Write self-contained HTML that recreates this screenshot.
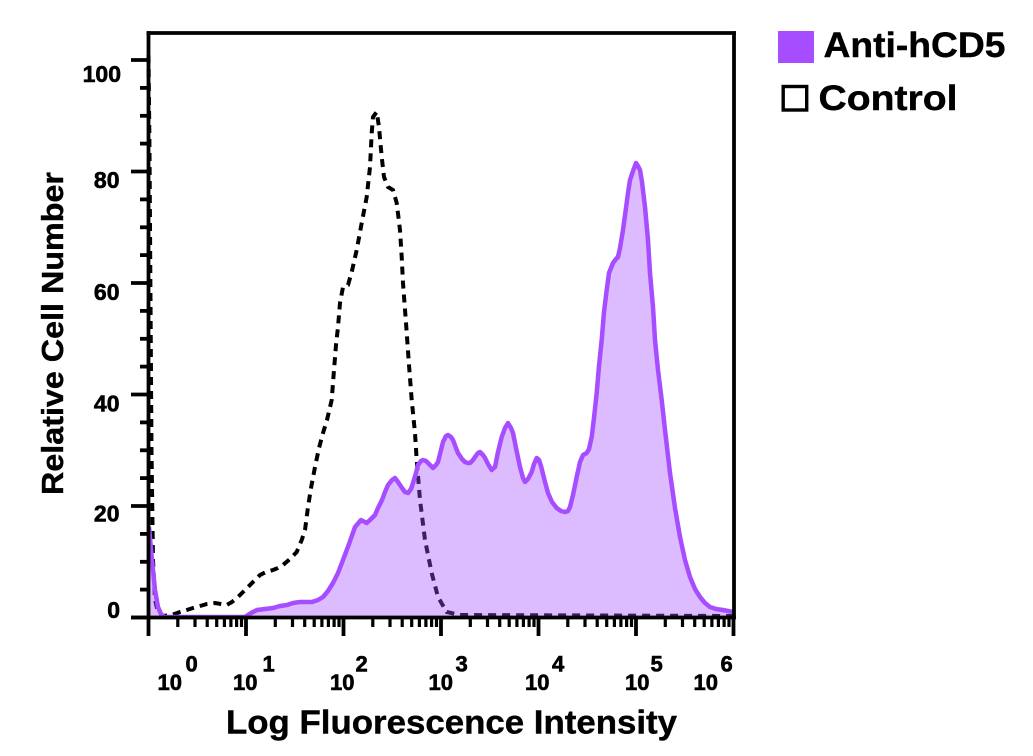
<!DOCTYPE html>
<html>
<head>
<meta charset="utf-8">
<style>
html,body{margin:0;padding:0;background:#fff;}
svg{display:block;}
text{font-family:"Liberation Sans",Arial,sans-serif;font-weight:bold;fill:#000;}
</style>
</head>
<body>
<svg width="1033" height="756" viewBox="0 0 1033 756" xmlns="http://www.w3.org/2000/svg">
<rect width="1033" height="756" fill="#fff"/>

<!-- Control dashed -->
<path d="M148.5,55 L149.5,150 L150.5,300 L151.5,450 L153,560 L155,600 L158,612 L163,616 L171.7,615 L180,612 L186.7,610 L193,608 L200,606 L207,604 L215,603 L221,604 L226.7,605 L232,602 L238,597 L243,592 L248,587 L254,581 L260,575 L266,572 L273,570 L278,568 L283,565 L290,559 L296.7,552 L301.7,540 L305,530 L308,507 L311,488 L315,467 L319,448 L323,433 L327,420 L331.7,400 L334,370 L336,345 L338,327 L340,303 L343,287 L348,285 L351.7,272 L356.7,250 L361.7,223 L366.7,197 L370,167 L371.7,133 L373,117 L376.7,112 L379,127 L381.7,157 L384,177 L388,187 L393,190 L396.7,203 L400,230 L401.7,257 L403,283 L406,323 L409,365 L411.7,400 L415,433 L416.7,460 L420,500 L425,540 L431.7,573 L438,597 L446.7,612 L460,615 L735,616" fill="none" stroke="#000" stroke-width="4" stroke-dasharray="8,6"/>

<!-- Anti-hCD5 fill -->
<path d="M149,617.5 L149,527 L152,560 L155,590 L158,607 L161,614 L164,617 L245,617 L251,613 L257,610 L265,609 L273,608 L280,606 L287,605 L293,603 L300,602 L312,602 L318,600 L323,597 L328,591 L333,583 L338,573 L343,560 L349,544 L355,527 L361,520 L366.7,523 L371,519 L375,515 L378,508 L382,500 L385,492 L388,485 L392,480 L395,478 L398,482 L402,488 L405,492 L408,493 L411,489 L413,483 L416,473 L418,465 L421,461 L423,460 L426,461 L428,463 L431,466 L433,468 L436,465 L438,462 L441,450 L443,442 L446,436 L448,435 L451,437 L453,440 L456,448 L458,453 L462,459 L465,462 L468,463 L470,463 L473,460 L475,457 L478,453 L480,452 L483,455 L485,458 L488,464 L491.7,470 L495,467 L498,452 L501.7,437 L505,428 L508,423 L511,428 L513,433 L516,448 L520,467 L523,478 L525,482 L528,479 L531.7,472 L534,464 L536.7,458 L539,460 L541,466 L545,482 L548,493 L552,502 L556.7,508 L561,511 L565,512 L568,511 L570,507 L573,495 L576.7,477 L580,462 L583,455 L586.7,453 L589,449 L591.7,437 L594,418 L596.7,393 L599,366 L601.7,340 L604,312 L606.7,290 L609,273 L613,263 L616,259 L618,257 L620,248 L623,230 L626,208 L628,193 L630,180 L633,171 L636,163 L638,166 L640,170 L642,182 L645,207 L648,240 L650,273 L653,307 L655,340 L658,370 L661.7,400 L665,430 L670,473 L675,508 L680,537 L685,560 L690,577 L695,589 L700,597 L705,603 L710,607 L716,609 L723,610 L728,611 L733,612 L733,617.5 Z" fill="#a64dff" fill-opacity="0.38" stroke="none"/>
<!-- Anti-hCD5 line -->
<path d="M149,527 L152,560 L155,590 L158,607 L161,614 L164,617 L245,617 L251,613 L257,610 L265,609 L273,608 L280,606 L287,605 L293,603 L300,602 L312,602 L318,600 L323,597 L328,591 L333,583 L338,573 L343,560 L349,544 L355,527 L361,520 L366.7,523 L371,519 L375,515 L378,508 L382,500 L385,492 L388,485 L392,480 L395,478 L398,482 L402,488 L405,492 L408,493 L411,489 L413,483 L416,473 L418,465 L421,461 L423,460 L426,461 L428,463 L431,466 L433,468 L436,465 L438,462 L441,450 L443,442 L446,436 L448,435 L451,437 L453,440 L456,448 L458,453 L462,459 L465,462 L468,463 L470,463 L473,460 L475,457 L478,453 L480,452 L483,455 L485,458 L488,464 L491.7,470 L495,467 L498,452 L501.7,437 L505,428 L508,423 L511,428 L513,433 L516,448 L520,467 L523,478 L525,482 L528,479 L531.7,472 L534,464 L536.7,458 L539,460 L541,466 L545,482 L548,493 L552,502 L556.7,508 L561,511 L565,512 L568,511 L570,507 L573,495 L576.7,477 L580,462 L583,455 L586.7,453 L589,449 L591.7,437 L594,418 L596.7,393 L599,366 L601.7,340 L604,312 L606.7,290 L609,273 L613,263 L616,259 L618,257 L620,248 L623,230 L626,208 L628,193 L630,180 L633,171 L636,163 L638,166 L640,170 L642,182 L645,207 L648,240 L650,273 L653,307 L655,340 L658,370 L661.7,400 L665,430 L670,473 L675,508 L680,537 L685,560 L690,577 L695,589 L700,597 L705,603 L710,607 L716,609 L723,610 L728,611 L733,612" fill="none" stroke="#a64dff" stroke-width="4.5" stroke-linejoin="round"/>

<!-- Axes frame -->
<g stroke="#000" stroke-width="3.8" fill="none">
<line x1="148.5" y1="31.2" x2="148.5" y2="619"/>
<line x1="146.6" y1="33" x2="735.9" y2="33"/>
<line x1="734" y1="31.2" x2="734" y2="619"/>
<line x1="131" y1="617.5" x2="735.9" y2="617.5"/>
</g>

<!-- Y ticks -->
<g stroke="#000" stroke-width="3.8">
<line x1="131" y1="617.5" x2="148" y2="617.5"/>
<line x1="140" y1="589.6" x2="148" y2="589.6"/>
<line x1="140" y1="561.8" x2="148" y2="561.8"/>
<line x1="140" y1="533.9" x2="148" y2="533.9"/>
<line x1="131" y1="506" x2="148" y2="506"/>
<line x1="140" y1="478.1" x2="148" y2="478.1"/>
<line x1="140" y1="450.3" x2="148" y2="450.3"/>
<line x1="140" y1="422.4" x2="148" y2="422.4"/>
<line x1="131" y1="394.5" x2="148" y2="394.5"/>
<line x1="140" y1="366.6" x2="148" y2="366.6"/>
<line x1="140" y1="338.8" x2="148" y2="338.8"/>
<line x1="140" y1="310.9" x2="148" y2="310.9"/>
<line x1="131" y1="283" x2="148" y2="283"/>
<line x1="140" y1="255.1" x2="148" y2="255.1"/>
<line x1="140" y1="227.3" x2="148" y2="227.3"/>
<line x1="140" y1="199.4" x2="148" y2="199.4"/>
<line x1="131" y1="171.5" x2="148" y2="171.5"/>
<line x1="140" y1="143.6" x2="148" y2="143.6"/>
<line x1="140" y1="115.8" x2="148" y2="115.8"/>
<line x1="140" y1="87.9" x2="148" y2="87.9"/>
<line x1="131" y1="60" x2="148" y2="60"/>
</g>

<!-- X ticks -->
<g stroke="#000" stroke-width="3.8">
<line x1="148.5" y1="618" x2="148.5" y2="636"/>
<line x1="246" y1="618" x2="246" y2="636"/>
<line x1="343.5" y1="618" x2="343.5" y2="636"/>
<line x1="441" y1="618" x2="441" y2="636"/>
<line x1="538.5" y1="618" x2="538.5" y2="636"/>
<line x1="636" y1="618" x2="636" y2="636"/>
<line x1="733.5" y1="618" x2="733.5" y2="636"/>
</g>
<g stroke="#000" stroke-width="3.2">
<g transform="translate(148.5,0)">
<line x1="29.3" y1="618" x2="29.3" y2="627"/><line x1="46.5" y1="618" x2="46.5" y2="627"/><line x1="58.7" y1="618" x2="58.7" y2="627"/><line x1="68.2" y1="618" x2="68.2" y2="627"/><line x1="75.9" y1="618" x2="75.9" y2="627"/><line x1="82.4" y1="618" x2="82.4" y2="627"/><line x1="88.1" y1="618" x2="88.1" y2="627"/><line x1="93" y1="618" x2="93" y2="627"/>
</g>
<g transform="translate(246,0)">
<line x1="29.3" y1="618" x2="29.3" y2="627"/><line x1="46.5" y1="618" x2="46.5" y2="627"/><line x1="58.7" y1="618" x2="58.7" y2="627"/><line x1="68.2" y1="618" x2="68.2" y2="627"/><line x1="75.9" y1="618" x2="75.9" y2="627"/><line x1="82.4" y1="618" x2="82.4" y2="627"/><line x1="88.1" y1="618" x2="88.1" y2="627"/><line x1="93" y1="618" x2="93" y2="627"/>
</g>
<g transform="translate(343.5,0)">
<line x1="29.3" y1="618" x2="29.3" y2="627"/><line x1="46.5" y1="618" x2="46.5" y2="627"/><line x1="58.7" y1="618" x2="58.7" y2="627"/><line x1="68.2" y1="618" x2="68.2" y2="627"/><line x1="75.9" y1="618" x2="75.9" y2="627"/><line x1="82.4" y1="618" x2="82.4" y2="627"/><line x1="88.1" y1="618" x2="88.1" y2="627"/><line x1="93" y1="618" x2="93" y2="627"/>
</g>
<g transform="translate(441,0)">
<line x1="29.3" y1="618" x2="29.3" y2="627"/><line x1="46.5" y1="618" x2="46.5" y2="627"/><line x1="58.7" y1="618" x2="58.7" y2="627"/><line x1="68.2" y1="618" x2="68.2" y2="627"/><line x1="75.9" y1="618" x2="75.9" y2="627"/><line x1="82.4" y1="618" x2="82.4" y2="627"/><line x1="88.1" y1="618" x2="88.1" y2="627"/><line x1="93" y1="618" x2="93" y2="627"/>
</g>
<g transform="translate(538.5,0)">
<line x1="29.3" y1="618" x2="29.3" y2="627"/><line x1="46.5" y1="618" x2="46.5" y2="627"/><line x1="58.7" y1="618" x2="58.7" y2="627"/><line x1="68.2" y1="618" x2="68.2" y2="627"/><line x1="75.9" y1="618" x2="75.9" y2="627"/><line x1="82.4" y1="618" x2="82.4" y2="627"/><line x1="88.1" y1="618" x2="88.1" y2="627"/><line x1="93" y1="618" x2="93" y2="627"/>
</g>
<g transform="translate(636,0)">
<line x1="29.3" y1="618" x2="29.3" y2="627"/><line x1="46.5" y1="618" x2="46.5" y2="627"/><line x1="58.7" y1="618" x2="58.7" y2="627"/><line x1="68.2" y1="618" x2="68.2" y2="627"/><line x1="75.9" y1="618" x2="75.9" y2="627"/><line x1="82.4" y1="618" x2="82.4" y2="627"/><line x1="88.1" y1="618" x2="88.1" y2="627"/><line x1="93" y1="618" x2="93" y2="627"/>
</g>
</g>

<!-- Y tick labels -->
<g font-size="23" text-anchor="end" stroke="#000" stroke-width="0.6">
<text x="121" y="82">100</text>
<text x="119.5" y="188">80</text>
<text x="119.5" y="300">60</text>
<text x="119.5" y="411.5">40</text>
<text x="119.5" y="521.5">20</text>
<text x="120" y="618">0</text>
</g>

<!-- X tick labels -->
<g font-size="22" stroke="#000" stroke-width="0.6">
<text x="157.5" y="690">10</text><text x="185.5" y="671.5">0</text>
<text x="233" y="690">10</text><text x="262.5" y="671.5">1</text>
<text x="330" y="690">10</text><text x="355.5" y="671.5">2</text>
<text x="428.5" y="690">10</text><text x="455.5" y="671.5">3</text>
<text x="525" y="690">10</text><text x="552" y="671.5">4</text>
<text x="625" y="690">10</text><text x="650.5" y="671.5">5</text>
<text x="693.5" y="690">10</text><text x="720.5" y="671.5">6</text>
</g>

<!-- Axis labels -->
<text x="226" y="733.5" font-size="33" textLength="451" lengthAdjust="spacingAndGlyphs" stroke="#000" stroke-width="0.4">Log Fluorescence Intensity</text>
<text x="63" y="333.5" font-size="31" text-anchor="middle" textLength="323" lengthAdjust="spacingAndGlyphs" transform="rotate(-90 63 333.5)" stroke="#000" stroke-width="0.4">Relative Cell Number</text>

<!-- Legend -->
<rect x="778" y="31" width="36" height="32" fill="#a64dff"/>
<text x="823.5" y="57" font-size="35" textLength="182" lengthAdjust="spacingAndGlyphs" stroke="#000" stroke-width="0.4">Anti-hCD5</text>
<rect x="783.2" y="86.5" width="23.5" height="23.5" fill="none" stroke="#000" stroke-width="3.4"/>
<text x="818.5" y="110" font-size="35" textLength="139" lengthAdjust="spacingAndGlyphs" stroke="#000" stroke-width="0.4">Control</text>
</svg>
</body>
</html>
